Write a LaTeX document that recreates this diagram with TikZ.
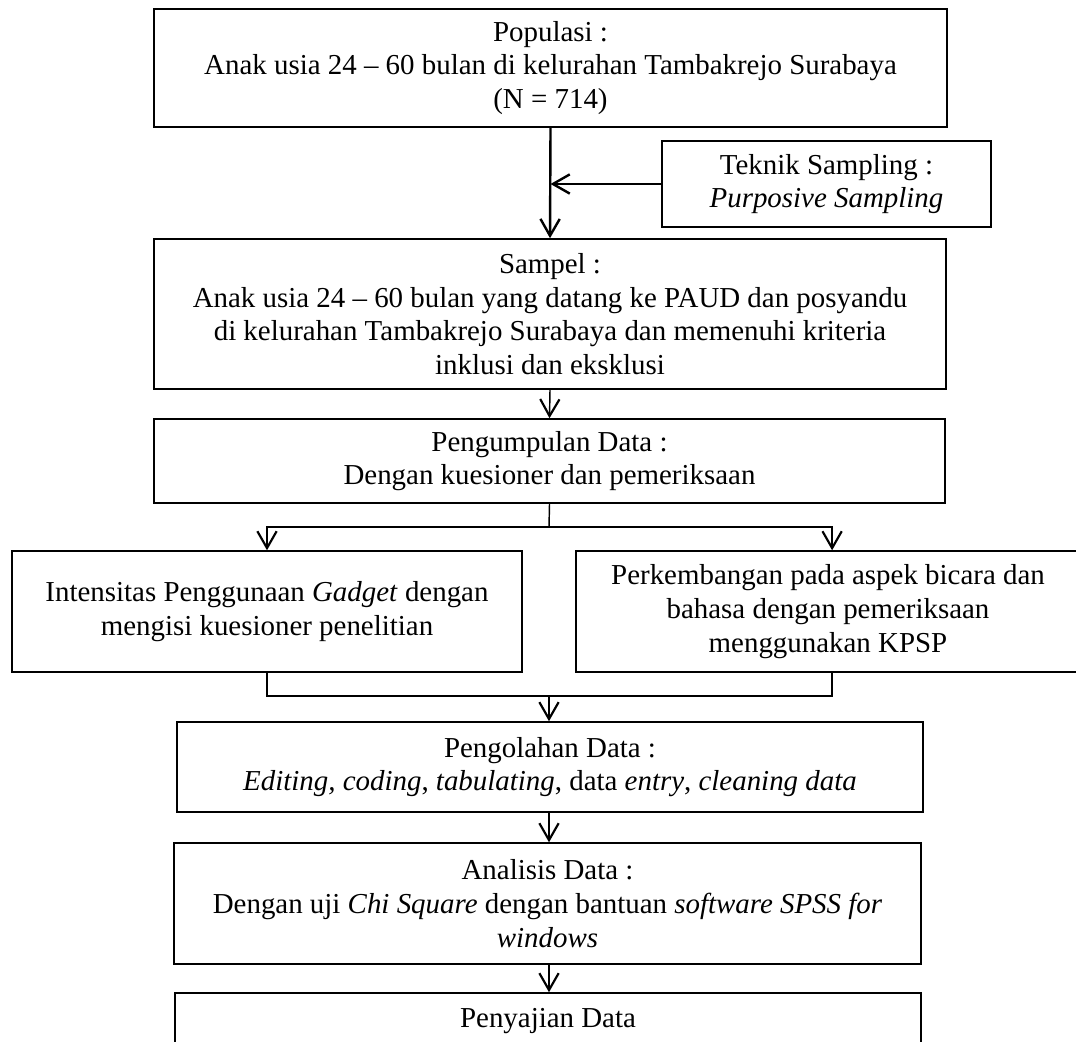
\documentclass[tikz,border=0pt]{standalone}
\usepackage{fontspec}
\setmainfont{Liberation Serif}
\usetikzlibrary{arrows.meta}

\begin{document}
\begin{tikzpicture}[x=0.415pt, y=-0.415pt,
    every node/.style={font=\fontsize{12}{14}\selectfont, align=center, inner sep=0pt},
    box/.style={draw, line width=0.6pt},
    arr/.style={line width=0.6pt, -{Straight Barb[length=7pt,width=8pt,line width=0.9pt]}},
    thickarr/.style={line width=1pt, -{Straight Barb[length=7pt,width=8pt,line width=1pt]}}]
  \useasboundingbox (0,0) rectangle (1076,1041);

  \node[box, minimum width=329.1pt, minimum height=49pt] (pop) at (550.5,68)
    {Populasi :\\Anak usia 24 -- 60 bulan di kelurahan Tambakrejo Surabaya\\(N = 714)};
  \node[box, minimum width=136.5pt, minimum height=35.7pt] (teknik) at (826.5,184)
    {Teknik Sampling :\\\textit{Purposive Sampling}};
  \node[box, minimum width=328.7pt, minimum height=62.3pt] (sampel) at (550,314)
    {Sampel :\\Anak usia 24 -- 60 bulan yang datang ke PAUD dan posyandu\\di kelurahan Tambakrejo Surabaya dan memenuhi kriteria\\inklusi dan eksklusi};
  \node[box, minimum width=328.3pt, minimum height=34.9pt] (kumpul) at (549.5,461)
    {Pengumpulan Data :\\Dengan kuesioner dan pemeriksaan};
  \node[box, minimum width=211.7pt, minimum height=50.2pt] (gadget) at (267,611.5)
    {Intensitas Penggunaan \textit{Gadget} dengan\\mengisi kuesioner penelitian};
  \node[box, minimum width=209.2pt, minimum height=50.2pt] (bicara) at (828,611.5)
    {Perkembangan pada aspek bicara dan\\bahasa dengan pemeriksaan\\menggunakan KPSP};
  \node[box, minimum width=309.6pt, minimum height=37.4pt] (olah) at (550,767)
    {Pengolahan Data :\\\textit{Editing, coding}, \textit{tabulating}, data \textit{entry}, \textit{cleaning data}};
  \node[box, minimum width=310pt, minimum height=50.2pt] (analisis) at (547.5,903.5)
    {Analisis Data :\\Dengan uji \textit{Chi Square} dengan bantuan \textit{software SPSS for}\\\textit{windows}};
  \node[box, minimum width=309.6pt, minimum height=23.7pt] (saji) at (548,1021.5)
    {Penyajian Data};

  % sampling
  \draw[thickarr] (pop.south) -- (sampel.north);
  \draw[thickarr] (teknik.west) -- (teknik.west -| pop.south);

  \draw[arr] (sampel.south) -- (kumpul.north);

  % split into the two variables
  \coordinate (split) at (549,527);
  \draw[line width=0.6pt] (kumpul.south) -- (split);
  \draw[arr] (split) -| (gadget.north);
  \draw[arr] (split) -| ([xshift=1.7pt]bicara.north);

  % join again
  \coordinate (join) at (549,696);
  \draw[line width=0.6pt] (gadget.south) |- (join) -| ([xshift=1.7pt]bicara.south);
  \draw[arr] (join) -- (join |- olah.north);

  \draw[arr] (olah.south -| join) -- (join |- analisis.north);
  \draw[arr] (analisis.south -| join) -- (join |- saji.north);
\end{tikzpicture}
\end{document}
